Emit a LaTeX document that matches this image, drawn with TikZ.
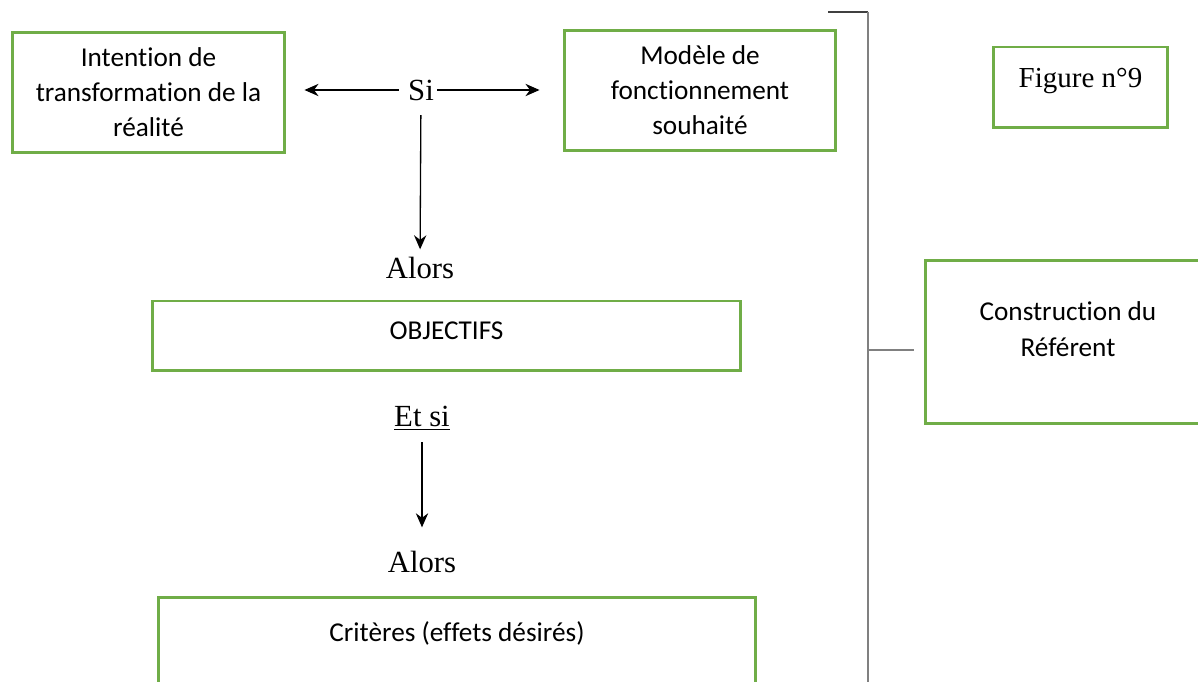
\documentclass[tikz,border=0pt]{standalone}
\usepackage{fontspec}
\setmainfont{Liberation Serif}
\newfontfamily\calib[Ligatures=NoCommon]{Carlito}
\usetikzlibrary{arrows.meta}
\definecolor{boxgreen}{HTML}{70AD47}
\tikzstyle{refbox} = [rectangle, draw=boxgreen, line width=1.7pt, inner sep=0pt, align=flush center, font=\calib\fontsize{15.5pt}{20pt}\selectfont]
\tikzstyle{word} = [inner sep=0pt, font=\fontsize{17.5pt}{21pt}\selectfont]
\tikzstyle{arrow} = [line width=0.75pt,-{Stealth[length=8pt,width=7pt]}]
\tikzstyle{bracket} = [line width=1.1pt, draw=gray]

\begin{document}
\begin{tikzpicture}[x=0.02cm,y=-0.02cm]
    \useasboundingbox (0,0) rectangle (1198,682);
    \node (intention) [refbox, text width=5.46cm, minimum height=2.42cm] at (148.5,92.5) {Intention de\\transformation de la\\réalité};
    \node (modele) [refbox, text width=5.44cm, minimum height=2.42cm] at (700,90.5) {Modèle de\\fonctionnement\\souhaité};
    \node (si) [word] at (421,90) {Si};
    \node (alorsA) [word] at (420,268) {Alors};
    \node (objectifs) [refbox, minimum width=11.78cm, text height=0.78cm, text depth=0.62cm] at (446.5,336) {OBJECTIFS};
    \node (etsi) [word] at (422,418) {\underline{Et si}};
    \node (alorsB) [word] at (422,562) {Alors};
    \node (criteres) [refbox, minimum width=11.96cm, text height=0.88cm, text depth=1.58cm] at (457,658.5) {Critères (effets désirés)};
    \node (figure) [refbox, minimum width=3.5cm, text height=0.82cm, text depth=0.8cm, font=\fontsize{16.5pt}{20pt}\selectfont] at (1080.5,87.5) {Figure n°9};
    \node (construction) [refbox, text width=5.72cm, text height=1.2cm, text depth=2.08cm, font=\calib\fontsize{15.5pt}{21pt}\selectfont] at (1068,342) {Construction du\\Référent};

    % bracket on the right
    \coordinate (brtop) at (828,12);
    \coordinate (brcorner) at (868,12);
    \coordinate (brbot) at (868,700);
    \coordinate (brmid) at (868,350);
    \draw [bracket, draw=black!75] (brtop) -- (brcorner);
    \draw [bracket] (brcorner) -- (brbot);
    \draw [bracket, shorten >=0.2cm] (brmid) -- (brmid -| construction.west);

    \draw [arrow, shorten <=0.18cm, shorten >=0.36cm] (si.west) -- (si.west -| intention.east);
    \draw [arrow, shorten <=0.06cm, shorten >=0.46cm] (si.east) -- (si.east -| modele.west);
    \draw [arrow, shorten <=0.29cm, shorten >=0.15cm] (si) -- (alorsA);
    \draw [arrow, shorten <=0.24cm, shorten >=0.47cm] (etsi) -- (alorsB);
\end{tikzpicture}
\end{document}
